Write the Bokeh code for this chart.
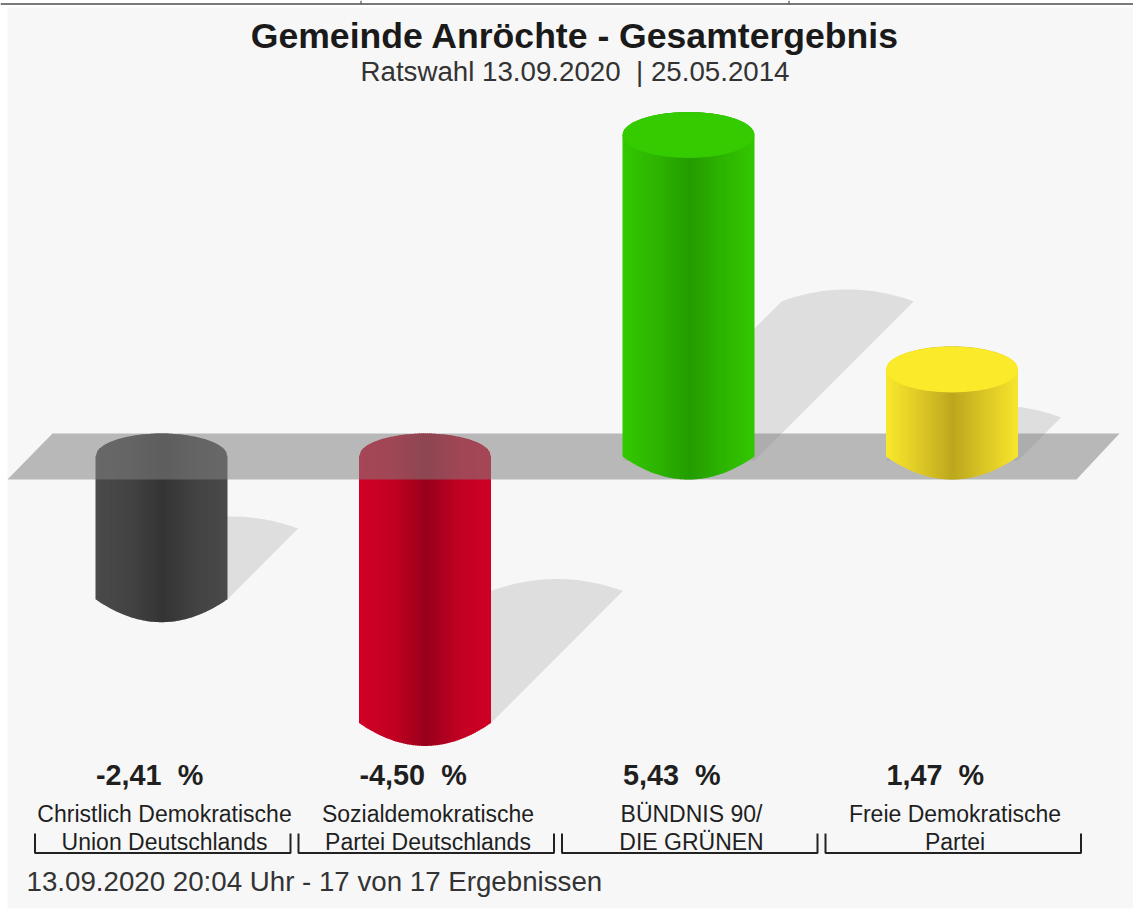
import math
from bokeh.plotting import figure
from bokeh.models import Range1d
from bokeh.core.properties import value
from bokeh.embed import file_html
from bokeh.resources import INLINE

# ---- data ----
parties_l1 = ["Christlich Demokratische", "Sozialdemokratische", "BÜNDNIS 90/", "Freie Demokratische"]
parties_l2 = ["Union Deutschlands", "Partei Deutschlands", "DIE GRÜNEN", "Partei"]
values = [-2.41, -4.50, 5.43, 1.47]
value_labels = ["-2,41\u00a0\u00a0%", "-4,50\u00a0\u00a0%", "5,43\u00a0\u00a0%", "1,47\u00a0\u00a0%"]
title = "Gemeinde Anröchte - Gesamtergebnis"
subtitle = "Ratswahl 13.09.2020\u00a0\u00a0| 25.05.2014"
footer = "13.09.2020 20:04 Uhr - 17 von 17 Ergebnissen"
# gradient stops: centre, shoulder, edge
grad_center = ["#343434", "#98001b", "#239c00", "#bca71e"]
grad_mid = ["#434343", "#c20022", "#2db400", "#dcc825"]
grad_edge = ["#4a4a4a", "#d00025", "#33c800", "#f8e72c"]
cap_colors = [None, None, "#34cc00", "#fbea2a"]

# ---- pixel geometry of the canvas ----
W, H = 1133, 909
PX_X = 263.5          # px per category
PX_Y = 59.2           # px per percentage point
X0, Y0 = 161.0, 456.0 # pixel position of category 0 / value 0
RX, RY = 66.0, 23.0   # cylinder ellipse radii in px
SRY = 12.0


def dx(px):
    return px / PX_X


def dy(px):
    return px / PX_Y


def fx(px):
    return (px - X0) / PX_X


def fy(py):
    return (Y0 - py) / PX_Y


def hex_rgb(c):
    return tuple(int(c[i:i + 2], 16) for i in (1, 3, 5))


def mix(a, b, t):
    a, b = hex_rgb(a), hex_rgb(b)
    return "#%02x%02x%02x" % tuple(round(a[i] + (b[i] - a[i]) * t) for i in range(3))


def grad_color(i, t):
    t = abs(t)
    if t < 0.5:
        return mix(grad_center[i], grad_mid[i], t / 0.5)
    return mix(grad_mid[i], grad_edge[i], (t - 0.5) / 0.5)


p = figure(width=W, height=H, x_range=Range1d(fx(0), fx(W)), y_range=Range1d(fy(H), fy(0)),
           output_backend="svg", toolbar_location=None, min_border=0,
           background_fill_color="#ffffff", border_fill_color="#ffffff",
           outline_line_color=None)
p.xaxis.visible = False
p.yaxis.visible = False
p.grid.visible = False

# page background and the strip above it
p.quad(left=[fx(7)], right=[fx(W)], bottom=[fy(908)], top=[fy(7)], fill_color="#f7f7f7", line_color=None)
p.segment(x0=[fx(0)], x1=[fx(W)], y0=[fy(3.5)], y1=[fy(3.5)], line_color="#7a7a7a", line_width=2)
p.segment(x0=[fx(360.5), fx(788.5)], x1=[fx(360.5), fx(788.5)], y0=[fy(0)] * 2, y1=[fy(3)] * 2,
          line_color="#333333", line_width=1)

# shadows
sx, sy = [], []
for i, v in enumerate(values):
    h = abs(v)  # value units
    base = 0.0 if v > 0 else v
    base -= dy(4) if v > 0 else 0
    d_px = h * PX_Y * 0.495
    xs, ys = [i - dx(RX)], [base]
    n = 40
    for k in range(n + 1):
        t = -1 + 2 * k / n
        xs.append(i + dx(d_px) + dx(RX) * t)
        ys.append(base + dy(d_px) + dy(SRY) * (1 - t * t))
    xs.append(i + dx(RX))
    ys.append(base)
    sx.append(xs)
    sy.append(ys)
p.patches(sx, sy, fill_color="#dedede", line_color=None)


def draw_cylinder(i, v):
    top_c = max(v, 0.0)
    bot_c = min(v, 0.0)
    step = 2
    px = -RX
    xs, ys, cols = [], [], []
    while px < RX - 1e-6:
        x_a, x_b = px, min(px + step, RX)
        x_over = min(x_b + 0.8, RX)
        xx, yy = [], []
        samples = [x_a, x_b, x_over]
        for q in samples:
            s = math.sqrt(max(0.0, 1 - (q / RX) ** 2))
            xx.append(i + dx(q))
            yy.append(top_c + dy(RY) * s)
        for q in reversed(samples):
            s = 1 - (q / RX) ** 2
            xx.append(i + dx(q))
            yy.append(bot_c - dy(RY) * s)
        xs.append(xx)
        ys.append(yy)
        cols.append(grad_color(i, (px + step / 2) / RX - 0.02))
        px += step
    p.patches(xs, ys, fill_color=cols, line_color=None)
    if cap_colors[i]:
        p.ellipse(x=[i], y=[top_c], width=[2 * dx(RX)], height=[2 * dy(RY)],
                  fill_color=cap_colors[i], line_color=None)


# negative cylinders sit beneath the translucent plane
for i, v in enumerate(values):
    if v < 0:
        draw_cylinder(i, v)

# the zero plane
p.patch(x=[fx(7), fx(52), fx(1119), fx(1076)], y=[fy(479)] * 1 + [fy(433)] * 2 + [fy(479)],
        fill_color="#838383", fill_alpha=0.536, line_color=None)

for i, v in enumerate(values):
    if v > 0:
        draw_cylinder(i, v)

FONT = value("Liberation Sans")
TXT = "#1f1f1f"
p.text(x=[fx(574.5)], y=[fy(35)], text=[title], text_font=FONT, text_font_size="35.6px", text_font_style="bold",
       text_align="center", text_baseline="middle", text_color="#1a1a1a")
p.text(x=[fx(574.5)], y=[fy(71)], text=[subtitle], text_font=FONT, text_font_size="27.7px",
       text_align="center", text_baseline="middle", text_color="#333333")

idx = list(range(len(values)))
p.text(x=[i + dx(-65.5) for i in idx], y=[fy(774)] * 4, text=value_labels, text_font=FONT, text_font_size="28.8px",
       text_font_style="bold", text_align="left", text_baseline="middle", text_color=TXT)
p.text(x=[i + dx(3) for i in idx], y=[fy(813.5)] * 4, text=parties_l1, text_font=FONT, text_font_size="23px",
       text_align="center", text_baseline="middle", text_color=TXT)
p.text(x=[i + dx(3) for i in idx], y=[fy(841.5)] * 4, text=parties_l2, text_font=FONT, text_font_size="23px",
       text_align="center", text_baseline="middle", text_color=TXT)
p.text(x=[fx(26)], y=[fy(881)], text=[footer], text_font=FONT, text_font_size="27.7px",
       text_align="left", text_baseline="middle", text_color="#333333")

# category brackets under the names
bx, by = [], []
for i in idx:
    l, r = i + dx(-126.5), i + dx(129)
    bx.append([l, l, r, r])
    by.append([fy(833), fy(852.5), fy(852.5), fy(833)])
p.multi_line(bx, by, line_color="#222222", line_width=2)

open("out.html", "w").write(file_html(p, INLINE))
